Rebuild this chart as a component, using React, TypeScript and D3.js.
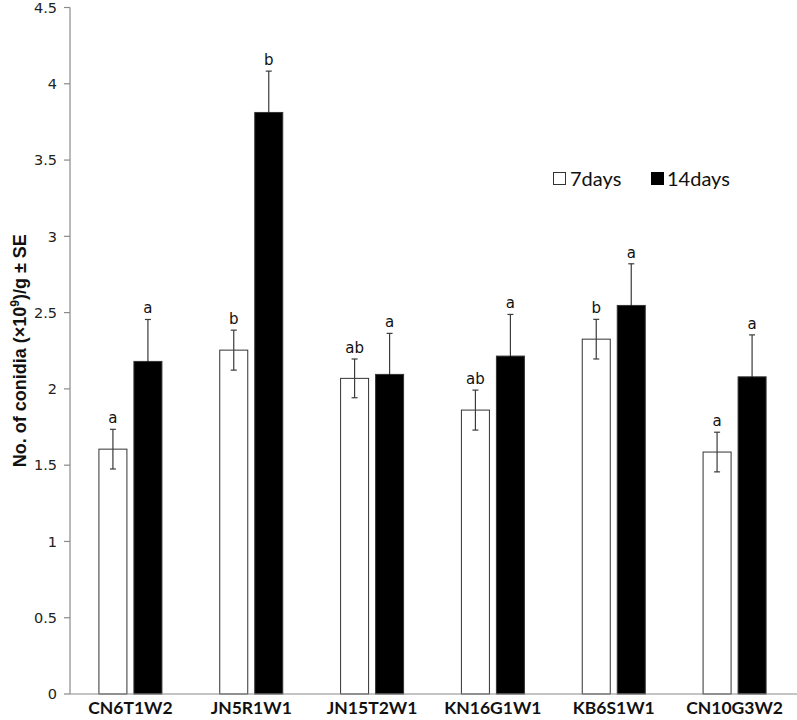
import React from "react";
import * as d3 from "d3";

const categories = ["CN6T1W2", "JN5R1W1", "JN15T2W1", "KN16G1W1", "KB6S1W1", "CN10G3W2"];
const seriesNames = ["7days", "14days"];
const days7 = [1.605, 2.254, 2.069, 1.861, 2.326, 1.586];
const days14 = [2.18, 3.812, 2.095, 2.215, 2.547, 2.079];
const se7 = [0.13, 0.131, 0.127, 0.131, 0.13, 0.13];
const se14 = [0.275, 0.271, 0.269, 0.273, 0.273, 0.275];
const letters7 = ["a", "b", "ab", "ab", "b", "a"];
const letters14 = ["a", "b", "a", "a", "a", "a"];
const yTicks = [0, 0.5, 1, 1.5, 2, 2.5, 3, 3.5, 4, 4.5];

const W = 797, H = 720;
const margin = { top: 7.5, right: 2, bottom: 26, left: 70 };

export default function App() {
  const y = d3.scaleLinear().domain([0, 4.5]).range([H - margin.bottom, margin.top]);
  const x0 = d3.scaleBand().domain(categories).range([margin.left, W - margin.right]).padding(0);
  const x1 = d3.scaleBand().domain(seriesNames).range([0, 63]).paddingInner(0.2);

  const rows = categories.map((c, i) => ({
    cat: c,
    bars: [
      { key: "7days", v: days7[i], se: se7[i], lab: letters7[i], fill: "#fff" },
      { key: "14days", v: days14[i], se: se14[i], lab: letters14[i], fill: "#000" },
    ],
  }));

  const axisColor = "#8a8a8a";
  const errColor = "#3a3a3a";
  const y0 = y(0);

  return (
    <svg width={W} height={H} style={{ position: "absolute", left: 0, top: 0, background: "#fff" }}>
      {/* bars */}
      {rows.map((r) => {
        const cx = x0(r.cat)! + x0.bandwidth() / 2;
        const start = cx - 31.5;
        return (
          <g key={r.cat}>
            {r.bars.map((b) => {
              const bx = start + x1(b.key)!;
              const mid = bx + x1.bandwidth() / 2;
              const top = y(b.v + b.se);
              const bottom = y(b.v - b.se);
              // lower half of error bar disappears inside the black bars
              const lowColor = b.fill === "#000" ? "#000" : errColor;
              return (
                <g key={b.key}>
                  <rect x={bx} y={y(b.v)} width={x1.bandwidth()} height={y0 - y(b.v)}
                    fill={b.fill} stroke="#333" strokeWidth={1} />
                  <line x1={mid} x2={mid} y1={top} y2={y(b.v)} stroke={errColor} strokeWidth={1.2} />
                  <line x1={mid} x2={mid} y1={y(b.v)} y2={bottom} stroke={lowColor} strokeWidth={1.2} />
                  <line x1={mid - 3} x2={mid + 3} y1={top} y2={top} stroke={errColor} strokeWidth={1.2} />
                  <line x1={mid - 3} x2={mid + 3} y1={bottom} y2={bottom} stroke={lowColor} strokeWidth={1.2} />
                  <text x={mid} y={top - 6} textAnchor="middle" fontFamily="DejaVu Sans" fontSize={15} fill="#111">
                    {b.lab}
                  </text>
                </g>
              );
            })}
            <text x={cx} y={H - 6} textAnchor="middle" fontFamily="Lato" fontWeight="bold" fontSize={17.5} fill="#111">
              {r.cat}
            </text>
          </g>
        );
      })}

      {/* axes */}
      <line x1={margin.left} x2={W} y1={y0} y2={y0} stroke={axisColor} strokeWidth={1.2} />
      <line x1={margin.left} x2={margin.left} y1={y(4.5)} y2={y0} stroke={axisColor} strokeWidth={1.2} />
      {yTicks.map((t) => (
        <g key={t}>
          <line x1={margin.left - 6} x2={margin.left} y1={y(t)} y2={y(t)} stroke={axisColor} strokeWidth={1.2} />
          <text x={margin.left - 13} y={y(t)} dy="0.36em" textAnchor="end" fontFamily="DejaVu Sans" fontSize={14.5} fill="#222">
            {String(t)}
          </text>
        </g>
      ))}
      <text transform={`translate(26,${(y(0) + y(4.5)) / 2}) rotate(-90)`} textAnchor="middle"
        fontFamily="Liberation Sans" fontWeight="bold" fontSize={18} fill="#111">
        No. of conidia (×10<tspan dy={-7} fontSize={12}>9</tspan><tspan dy={7}>)/g ± SE</tspan>
      </text>

      {/* legend */}
      <g fontFamily="Lato" fontSize={20} fill="#111">
        <rect x={553.5} y={172.5} width={12} height={12} fill="#fff" stroke="#333" />
        <text x={570} y={185.5}>7days</text>
        <rect x={651.5} y={172.5} width={12} height={12} fill="#000" stroke="#000" />
        <text x={667} y={185.5}>14days</text>
      </g>
    </svg>
  );
}
